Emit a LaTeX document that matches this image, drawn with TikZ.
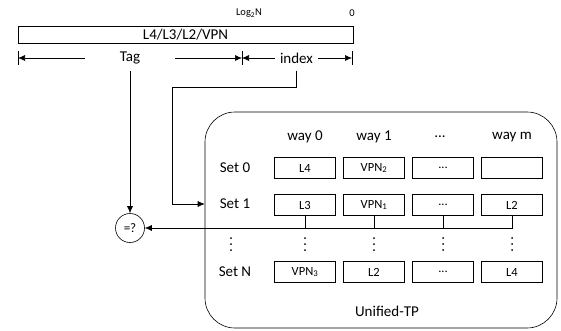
\documentclass[tikz,border=0pt]{standalone}
\usepackage{fontspec}
\setmainfont{Carlito}
\usetikzlibrary{arrows.meta}

\begin{document}
\begin{tikzpicture}[x=1pt,y=-1pt,line width=0.6pt,>={Latex[length=7pt,width=6pt]},
  cell/.style={draw,minimum width=61pt,minimum height=21pt,inner sep=0pt,font=\fontsize{12.5}{14}\selectfont},
  lbl/.style={font=\fontsize{15}{17}\selectfont,inner sep=1pt}]

\useasboundingbox (0,0) rectangle (561,330);

% address bar
\node[draw,minimum width=335pt,minimum height=17pt,inner sep=0pt,font=\fontsize{15}{17}\selectfont] (addr) at (185.5,34.5) {L4/L3/L2/VPN};
\node[font=\fontsize{10.5}{12}\selectfont] (logn) at (249,13) {Log\textsubscript{2}N};
\node[font=\fontsize{10.5}{12}\selectfont] (zero) at (352,13) {0};

\coordinate (t1) at (18,58);
\coordinate (t2) at (242,58);
\coordinate (t3) at (352,58);
\draw (18,51) -- (18,65);
\draw (242,51) -- (242,65);
\draw (352,51) -- (352,65);

\node[lbl,minimum width=90pt] (tag) at (130,58) {Tag};
\node[lbl,minimum width=43pt] (idx) at (296.5,58) {index};
\draw[->] (tag) -- (t1);
\draw[->] (tag) -- (t2);
\draw[->] (idx) -- (t2);
\draw[->] (idx) -- (t3);

% unified tp
\node[draw,rounded corners=30pt,minimum width=352pt,minimum height=216pt] (tp) at (381,220) {};
\node[lbl] (name) at (387,311) {Unified-TP};

\node[lbl] (w0) at (305,137) {way 0};
\node[lbl] (w1) at (374,137) {way 1};
\node[lbl] (w2) at (440,137) {...};
\node[lbl] (w3) at (512,137) {way m};

\node[lbl] (s0) at (235,168) {Set 0};
\node[lbl] (s1) at (235,204) {Set 1};
\node[lbl] (sn) at (235,272) {Set N};

\node[cell] (c00) at (305,168) {L4};
\node[cell] (c01) at (374,168) {VPN\textsubscript{2}};
\node[cell] (c02) at (443,168) {...};
\node[cell] (c03) at (512,168) {};

\node[cell] (c10) at (305,205) {L3};
\node[cell] (c11) at (374,205) {VPN\textsubscript{1}};
\node[cell] (c12) at (443,205) {...};
\node[cell] (c13) at (512,205) {L2};

\node[cell] (cn0) at (305,272) {VPN\textsubscript{3}};
\node[cell] (cn1) at (374,272) {L2};
\node[cell] (cn2) at (443,272) {...};
\node[cell] (cn3) at (512,272) {L4};

% vertical dots
\foreach \xx in {231,305,374,443,512}
  \foreach \yy in {238,244,250}
    \fill (\xx,\yy) circle (1pt);

% compare
\node[draw,circle,minimum size=29pt,inner sep=0pt,font=\fontsize{13}{15}\selectfont] (cmp) at (130,228) {=?};

\coordinate (bend) at (172,87);
\draw[->] ([yshift=-6pt]tag.south) -- (cmp);
\draw[->] ([yshift=-6pt]idx.south) |- (bend) |- (s1.west -| tp.west);

\draw[->] (c13.south) |- (cmp);
\draw (c10.south) -- (c10.south |- cmp);
\draw (c11.south) -- (c11.south |- cmp);
\draw (c12.south) -- (c12.south |- cmp);
\end{tikzpicture}
\end{document}
